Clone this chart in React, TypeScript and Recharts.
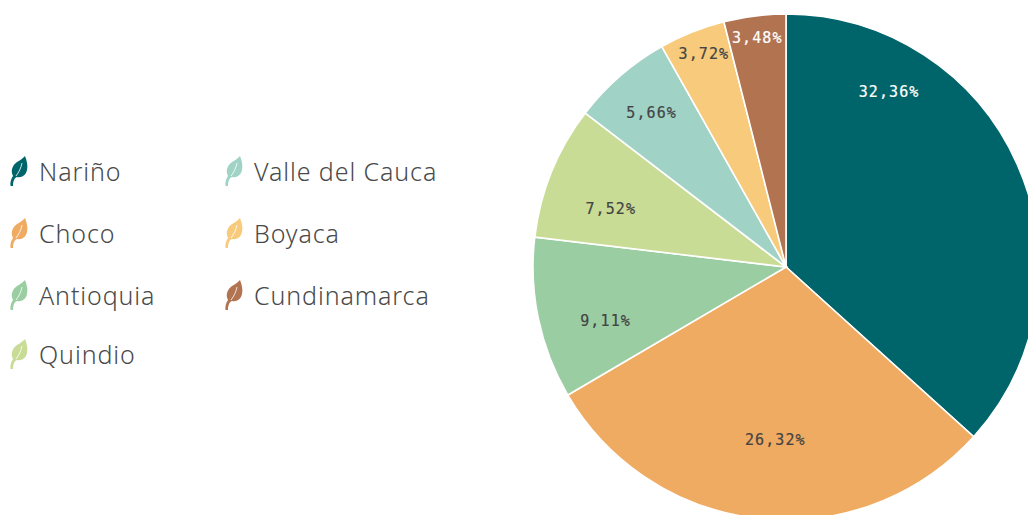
import { PieChart, Pie, Cell, Legend } from 'recharts';

const regions = ['Nariño', 'Choco', 'Antioquia', 'Quindio', 'Valle del Cauca', 'Boyaca', 'Cundinamarca'];
const shares = [32.36, 26.32, 9.11, 7.52, 5.66, 3.72, 3.48];
const colors = ['#00656B', '#F0AB62', '#9BCDA2', '#C9DC96', '#A0D2C6', '#F8CB7C', '#B17350'];
const labelColors = ['#FFFFFF', '#444444', '#444444', '#444444', '#444444', '#444444', '#FFFFFF'];

// label placement relative to each slice's middle
const labelRadius = [204, 172, 188, 185, 205, 229, 232];
const labelAngleShift = [35.7, 2.3, 4.5, 3.5, 0, -0.8, 0];

const legendCols = [10, 225];
const legendRows = [155, 217, 279, 338];

const chartData = regions.map((name, i) => ({ name, value: shares[i] }));

const RAD = Math.PI / 180;
const monoFont = '"DejaVu Sans Mono", monospace';
const textFont = '"Noto Sans", sans-serif';

function renderLabel(props: any) {
  const { cx, cy, midAngle, index } = props;
  const a = (midAngle + labelAngleShift[index]) * RAD;
  const r = labelRadius[index];
  return (
    <text
      x={cx + r * Math.cos(a)}
      y={cy - r * Math.sin(a) + 1}
      fill={labelColors[index]}
      stroke={labelColors[index]}
      strokeWidth={0.2}
      textAnchor="middle"
      dominantBaseline="central"
      fontFamily={monoFont}
      fontSize={15}
      letterSpacing={1.1}
    >
      {shares[index].toFixed(2).replace('.', ',') + '%'}
    </text>
  );
}

function Leaf({ color }: { color: string }) {
  return (
    <svg width={20} height={32} viewBox="0 0 20 32" style={{ display: 'block' }}>
      <path
        d="M15 1 C17 6 18 11 17 15 C16 20 12 23 7 22 C4 23 3 27 3 31 L0.5 31 C0 27 1 24 3 21 C0 15 3 10 7 7 C11 5 13 3 15 1 Z"
        fill={color}
      />
      <path d="M6 21 C9 17 11 13 12 8" fill="none" stroke="#FFFFFF" strokeWidth={0.8} />
    </svg>
  );
}

function LeafLegend({ payload }: any) {
  return (
    <div style={{ position: 'relative', width: 500, height: 400 }}>
      {(payload || []).map((entry: any, i: number) => {
        const col = i < 4 ? 0 : 1;
        const row = i < 4 ? i : i - 4;
        return (
          <div
            key={entry.value}
            style={{ position: 'absolute', left: legendCols[col], top: legendRows[row], display: 'flex', alignItems: 'center', whiteSpace: 'nowrap' }}
          >
            <Leaf color={entry.color} />
            <span style={{ marginLeft: 9, fontFamily: textFont, fontSize: 25, fontWeight: 300, color: '#4A4A4A', letterSpacing: 0.9, lineHeight: '32px' }}>
              {entry.value}
            </span>
          </div>
        );
      })}
    </div>
  );
}

export default function App() {
  return (
    <div style={{ position: 'fixed', left: 0, top: 0, width: 1028, height: 515, overflow: 'hidden', background: '#FFFFFF' }}>
      <PieChart width={1028} height={515} margin={{ top: 0, right: 0, bottom: 0, left: 0 }}>
        <Legend content={<LeafLegend />} itemSorter={null} wrapperStyle={{ left: 0, top: 0, width: 500, height: 400 }} />
        <Pie
          data={chartData}
          dataKey="value"
          nameKey="name"
          cx={786}
          cy={267}
          outerRadius={253}
          startAngle={90}
          endAngle={-270}
          stroke="#FFFFFF"
          strokeWidth={1.6}
          label={renderLabel}
          labelLine={false}
          isAnimationActive={false}
        >
          {chartData.map((d, i) => (
            <Cell key={d.name} fill={colors[i]} />
          ))}
        </Pie>
      </PieChart>
    </div>
  );
}
